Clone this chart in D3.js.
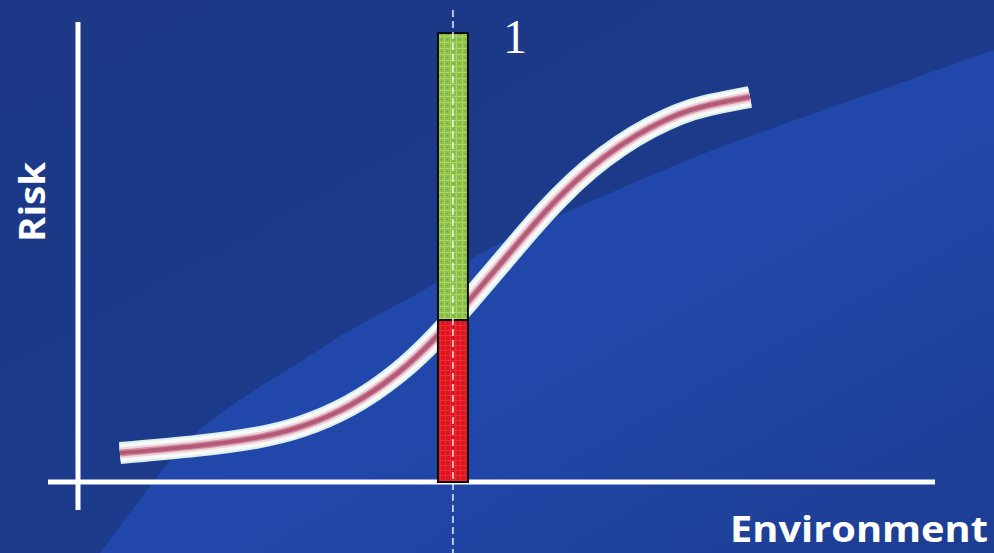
<!DOCTYPE html>
<html>
<head>
<meta charset="utf-8">
<script src="https://cdn.jsdelivr.net/npm/d3@7"></script>
<style>
  html, body { margin: 0; padding: 0; background: #1c3a88; }
  svg { display: block; }
</style>
</head>
<body>
<svg id="chart" width="994" height="553"></svg>
<script>
// Dose–response style curve: risk rising with environment
const environment = [0.49, 1.42, 2.13, 2.59, 3.17, 3.76, 4.19, 4.57, 4.92, 5.27, 5.62, 5.97, 6.33, 6.68, 7.03, 7.28, 7.84];
const risk        = [0.063, 0.078, 0.096, 0.117, 0.161, 0.237, 0.315, 0.396, 0.472, 0.550, 0.622, 0.683, 0.733, 0.772, 0.802, 0.817, 0.837];

// Threshold bar at a chosen environment level
const threshold = 4.375;
const barTop = 0.976;
const barSplit = 0.352;
const thresholdLabel = "1";

const xLabel = "Environment";
const yLabel = "Risk";

// Backdrop swoosh edge (in chart units)
const swooshEnv  = [0.26, 0.72, 1.23, 1.89, 2.59, 3.14, 3.76, 4.19, 4.57, 5.39, 6.21, 7.26, 8.43, 9.59, 10.69];
const swooshRisk = [-0.154, -0.039, 0.080, 0.178, 0.261, 0.326, 0.389, 0.435, 0.483, 0.559, 0.628, 0.711, 0.791, 0.867, 0.939];

const W = 994, H = 553;
const svg = d3.select("#chart");

const x = d3.scaleLinear().domain([0, 10]).range([78, 935]);
const y = d3.scaleLinear().domain([0, 1]).range([482, 22]);

const defs = svg.append("defs");

// background gradients
const bgDark = defs.append("linearGradient").attr("id", "bgDark")
  .attr("x1", 0).attr("y1", 0).attr("x2", 1).attr("y2", 1);
bgDark.append("stop").attr("offset", "0%").attr("stop-color", "#1c3886");
bgDark.append("stop").attr("offset", "60%").attr("stop-color", "#1d3b8c");
bgDark.append("stop").attr("offset", "100%").attr("stop-color", "#1e3e94");

const bgLight = defs.append("linearGradient").attr("id", "bgLight")
  .attr("x1", 0).attr("y1", 0).attr("x2", 1).attr("y2", 1);
bgLight.append("stop").attr("offset", "0%").attr("stop-color", "#2249ae");
bgLight.append("stop").attr("offset", "55%").attr("stop-color", "#2147aa");
bgLight.append("stop").attr("offset", "100%").attr("stop-color", "#1d3d92");

// textured fills for the bar
const gPat = defs.append("pattern").attr("id", "greenTex")
  .attr("patternUnits", "userSpaceOnUse").attr("width", 6).attr("height", 6);
gPat.append("rect").attr("width", 6).attr("height", 6).attr("fill", "#8cbf4c");
gPat.append("rect").attr("x", 0).attr("y", 0).attr("width", 6).attr("height", 1).attr("fill", "#aad95e");
gPat.append("rect").attr("x", 0).attr("y", 0).attr("width", 1).attr("height", 6).attr("fill", "#a6d55c");
gPat.append("rect").attr("x", 3).attr("y", 3).attr("width", 1).attr("height", 1).attr("fill", "#6a9858");

const rPat = defs.append("pattern").attr("id", "redTex")
  .attr("patternUnits", "userSpaceOnUse").attr("width", 5).attr("height", 5);
rPat.append("rect").attr("width", 5).attr("height", 5).attr("fill", "#dc1620");
rPat.append("rect").attr("x", 0).attr("y", 0).attr("width", 5).attr("height", 1).attr("fill", "#f42a34");
rPat.append("rect").attr("x", 0).attr("y", 0).attr("width", 1).attr("height", 5).attr("fill", "#f02630");

// background
svg.append("rect").attr("width", W).attr("height", H).attr("fill", "url(#bgDark)");

const swooshPts = swooshEnv.map((e, i) => [x(e), y(swooshRisk[i])]);
const swooshLine = d3.line().curve(d3.curveMonotoneX);
const swooshPath = swooshLine(swooshPts) + `L${W},${H}L${x(swooshEnv[0])},${H}Z`;
svg.append("path").attr("d", swooshPath).attr("fill", "url(#bgLight)");

// axes (plain white lines, no ticks)
svg.append("line")
  .attr("x1", 48).attr("x2", x(10)).attr("y1", y(0)).attr("y2", y(0))
  .attr("stroke", "#ffffff").attr("stroke-width", 5);
svg.append("line")
  .attr("x1", x(0)).attr("x2", x(0)).attr("y1", y(1)).attr("y2", 510)
  .attr("stroke", "#ffffff").attr("stroke-width", 5);

// risk curve drawn as a layered band
const pts = environment.map((e, i) => [x(e), y(risk[i])]);
const line = d3.line().curve(d3.curveBasis);
const d = line(pts);
const layers = [
  { w: 22, c: "#dcefe8" },
  { w: 18, c: "#f6fbf9" },
  { w: 11, c: "#efd4dc" },
  { w: 7,  c: "#cf8ea2" },
  { w: 4,  c: "#b45a76" }
];
layers.forEach(l => {
  svg.append("path").attr("d", d).attr("fill", "none")
    .attr("stroke", l.c).attr("stroke-width", l.w).attr("stroke-linecap", "butt");
});

// threshold bar
const bw = 30;
const bx = x(threshold) - bw / 2;
svg.append("rect")
  .attr("x", bx).attr("y", y(barTop)).attr("width", bw).attr("height", y(barSplit) - y(barTop))
  .attr("fill", "url(#greenTex)").attr("stroke", "#0a0a0a").attr("stroke-width", 2);
svg.append("rect")
  .attr("x", bx).attr("y", y(barSplit)).attr("width", bw).attr("height", y(0) - y(barSplit))
  .attr("fill", "url(#redTex)").attr("stroke", "#0a0a0a").attr("stroke-width", 2);

// dashed threshold marker
svg.append("line")
  .attr("x1", x(threshold)).attr("x2", x(threshold)).attr("y1", 10).attr("y2", H)
  .attr("stroke", "#ffffff").attr("stroke-opacity", 0.85).attr("stroke-width", 1.6)
  .attr("stroke-dasharray", "7,4");

// labels
svg.append("text")
  .attr("x", x(threshold) + 50).attr("y", 53)
  .attr("font-family", "Liberation Serif, serif").attr("font-size", 48)
  .attr("fill", "#ffffff").attr("text-anchor", "start")
  .text(thresholdLabel);

svg.append("text")
  .attr("transform", "translate(45,202) rotate(-90)")
  .attr("font-family", "Open Sans, sans-serif").attr("font-weight", 700).attr("font-size", 35)
  .attr("fill", "#ffffff").attr("text-anchor", "middle")
  .attr("textLength", 80).attr("lengthAdjust", "spacingAndGlyphs")
  .text(yLabel);

svg.append("text")
  .attr("x", 730).attr("y", 542)
  .attr("font-family", "Open Sans, sans-serif").attr("font-weight", 700).attr("font-size", 35)
  .attr("fill", "#ffffff").attr("text-anchor", "start")
  .attr("textLength", 258).attr("lengthAdjust", "spacingAndGlyphs")
  .text(xLabel);
</script>
</body>
</html>
